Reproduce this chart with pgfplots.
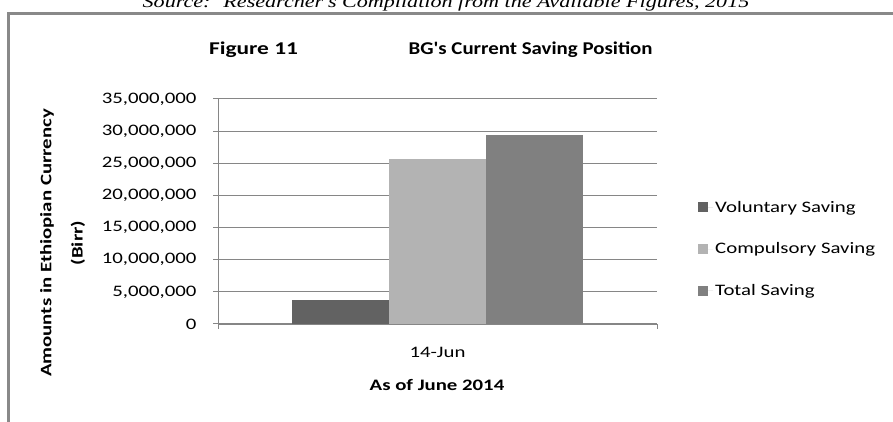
\documentclass[border=0pt]{standalone}
\usepackage{fontspec}
\setmainfont{Carlito}[FakeStretch=1.3]
\newfontfamily\titlefont{Carlito}[FakeStretch=1.16]
\newfontfamily\srcfont{Liberation Serif}[FakeStretch=1.3]
\usepackage{pgfplots}
\pgfplotsset{compat=1.18}
\definecolor{gridgray}{HTML}{868686}
\definecolor{volc}{HTML}{626262}
\definecolor{compc}{HTML}{B3B3B3}
\definecolor{totc}{HTML}{808080}
\definecolor{framec}{HTML}{898989}

\begin{document}
\begin{tikzpicture}
\useasboundingbox (0pt,0pt) rectangle (893pt,422pt);
% chart frame
\draw[framec, line width=2.7pt] (8.7pt,-20pt) -- (8.7pt,408.5pt) -- (920pt,408.5pt);
% source note above the chart
\node[anchor=base, font=\srcfont\itshape\fontsize{17}{20}\selectfont] at (446pt,414pt)
  {Source:~ Researcher's Compilation from the Available Figures, 2015};
% chart title
\node[font=\bfseries\fontsize{18}{22}\selectfont] at (253.5pt,372pt) {Figure 11};
\node[anchor=west, font=\titlefont\bfseries\fontsize{18}{22}\selectfont] at (405pt,372pt) {BG's Current Saving Position};
% y axis title (two lines)
\node[rotate=90, font=\bfseries\fontsize{16}{20}\selectfont] at (47pt,179pt) {Amounts in Ethiopian Currency};
\node[rotate=90, font=\bfseries\fontsize{16}{20}\selectfont] at (78pt,179pt) {(Birr)};
% x axis title
\node[font=\bfseries\fontsize{16}{20}\selectfont] at (437pt,37pt) {As of June 2014};
\begin{axis}[
  at={(218pt,98pt)}, anchor=south west,
  width=439pt, height=225pt, scale only axis,
  xmin=-1, xmax=1, ymin=0, ymax=35000000,
  ybar=0pt, bar width=97pt,
  axis lines*=left,
  x axis line style={-, draw=gridgray, line width=2pt},
  y axis line style={-, draw=gridgray, line width=1pt},
  ymajorgrids, grid style={gridgray, line width=1pt},
  tick align=outside, major tick length=5pt,
  tick style={gridgray, line width=1pt},
  ytick={0,5000000,10000000,15000000,20000000,25000000,30000000,35000000},
  scaled y ticks=false,
  yticklabel style={font=\fontsize{16}{19}\selectfont, xshift=-13pt,
    /pgf/number format/.cd, fixed, 1000 sep={,}, assume math mode=true},
  xtick={-1,1}, xticklabels={},
  extra x ticks={0}, extra x tick labels={14-Jun},
  extra x tick style={major tick length=0pt, grid=none,
    xticklabel style={font=\fontsize{16}{19}\selectfont, yshift=-20pt}},
  legend style={at={(axis description cs:1.0934,0.3333)}, anchor=west,
    draw=none, fill=none, inner sep=0pt, row sep=25pt,
    font=\fontsize{16}{19}\selectfont},
  legend cell align=left,
]
\addplot[fill=volc, draw=none,
  legend image code/.code={\fill[volc] (0pt,-5pt) rectangle (10pt,5pt); \path (0pt,0pt) -- (15pt,0pt);}]
  coordinates {(0,3700000)};
\addplot[fill=compc, draw=none,
  legend image code/.code={\fill[compc] (0pt,-5pt) rectangle (10pt,5pt); \path (0pt,0pt) -- (15pt,0pt);}]
  coordinates {(0,25700000)};
\addplot[fill=totc, draw=none,
  legend image code/.code={\fill[totc] (0pt,-5pt) rectangle (10pt,5pt); \path (0pt,0pt) -- (15pt,0pt);}]
  coordinates {(0,29400000)};
\legend{Voluntary Saving, Compulsory Saving, Total Saving}
\end{axis}
\end{tikzpicture}
\end{document}
